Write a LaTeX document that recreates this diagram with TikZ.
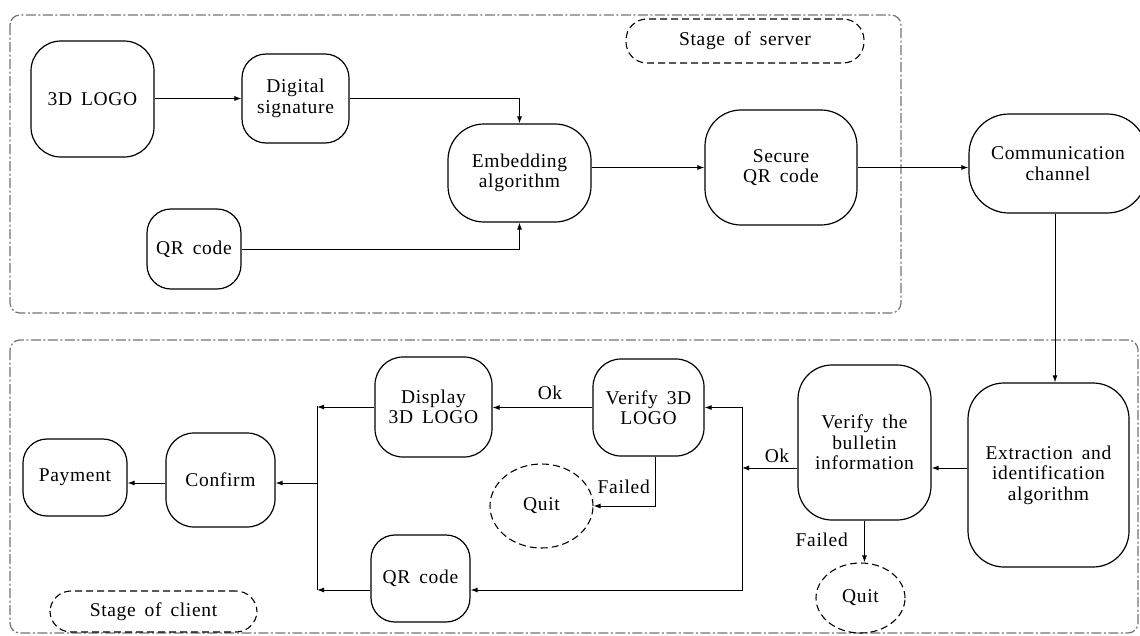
\documentclass[tikz,border=0pt]{standalone}
\usepackage{fontspec}
\setmainfont{Liberation Serif}[LetterSpace=3.5,WordSpace=1.6]
\usetikzlibrary{shapes.geometric,arrows.meta}
\tikzset{
  box/.style={draw, line width=1.2pt, rounded corners=#1, align=center, inner sep=0pt, font=\fontsize{19.5}{20.5}\selectfont},
  box/.default=24pt,
  quitnode/.style={draw, dash pattern=on 7pt off 4pt, line width=1.1pt, ellipse, inner sep=0pt, font=\fontsize{19.5}{20.5}\selectfont},
  stagenode/.style={draw, dash pattern=on 7pt off 4pt, line width=1.1pt, rounded corners=21pt, inner sep=0pt, font=\fontsize{19.5}{20.5}\selectfont},
  frame/.style={draw=black!55, line width=1.2pt, dash pattern=on 10pt off 2.5pt on 2pt off 2.5pt, rounded corners=10pt},
  arr/.style={line width=1pt, -{Latex[length=7pt,width=5pt]}},
  ln/.style={line width=1pt},
  lbl/.style={font=\fontsize{19.5}{20.5}\selectfont, inner sep=0pt},
}
\begin{document}
\begin{tikzpicture}[x=1pt,y=-1pt]
\useasboundingbox (0,0) rectangle (1140,635);
% frames
\draw[frame] (10,15) rectangle (901,313);
\draw[frame] (10,340) rectangle (1138,633);
% server nodes
\node[box=30pt, minimum width=123pt, minimum height=116pt] (logo) at (92.5,99) {3D LOGO};
\node[box, minimum width=107pt, minimum height=89pt] (dsig) at (295.5,98.5) {Digital\\signature};
\node[box, minimum width=94pt, minimum height=80pt] (qrs) at (194,249) {QR code};
\node[box=36pt, minimum width=143pt, minimum height=98pt] (emb) at (519.5,173) {Embedding\\algorithm};
\node[box=36pt, minimum width=152pt, minimum height=115pt] (sqr) at (781,167.5) {Secure\\QR code};
\node[box=40pt, minimum width=178pt, minimum height=99pt] (comm) at (1058,163.5) {Communication\\channel};
\node[stagenode, minimum width=238pt, minimum height=44pt] (stS) at (745,41) {Stage of server};
% client nodes
\node[box=36pt, minimum width=161pt, minimum height=184pt] (ext) at (1048.5,475) {Extraction and\\identification\\algorithm};
\node[box=34pt, minimum width=133pt, minimum height=155pt] (vbi) at (864.5,442.5) {Verify the\\bulletin\\information};
\node[quitnode, minimum width=89pt, minimum height=70pt] (quit2) at (860.5,598) {Quit};
\node[box=28pt, minimum width=111pt, minimum height=97pt] (v3d) at (648.5,407.5) {Verify 3D\\LOGO};
\node[box=28pt, minimum width=117pt, minimum height=100pt] (disp) at (433.5,407) {Display\\3D LOGO};
\node[quitnode, minimum width=103pt, minimum height=84pt] (quit1) at (541.5,506) {Quit};
\node[box, minimum width=99pt, minimum height=87pt] (qrc) at (420.5,578.5) {QR code};
\node[box=28pt, minimum width=109pt, minimum height=94pt] (conf) at (220.5,480) {Confirm};
\node[box, minimum width=104pt, minimum height=77pt] (pay) at (75,477.5) {Payment};
\node[stagenode, minimum width=207pt, minimum height=41pt] (stC) at (153.5,611.5) {Stage of client};
% helper coordinates
\coordinate (xA) at (1055,0);
\coordinate (yB) at (0,468);
\coordinate (jR) at (742,468);
\coordinate (y590) at (0,590);
\coordinate (x655) at (655,0);
\coordinate (jL) at (317,406);
\coordinate (y483) at (0,483);
% server connectors
\draw[arr] (logo.east |- dsig.west) -- (dsig.west);
\draw[arr] (dsig.east) -| (emb.north);
\draw[arr] (qrs.east) -| (emb.south);
\draw[arr] (emb.east |- sqr.west) -- (sqr.west);
\draw[arr] (sqr.east) -- (sqr.east -| comm.west);
\draw[arr] (comm.south -| xA) -- (ext.north -| xA);
% client connectors
\draw[arr] (ext.west |- yB) -- (vbi.east |- yB);
\draw[arr] (vbi.west |- yB) -- (jR);
\node[lbl, anchor=south] (ok2) at (777,463) {Ok};
\draw[arr] (jR) |- (v3d.east);
\draw[arr] (jR) |- (qrc.east |- y590);
\draw[arr] (vbi.south) -- (vbi.south |- quit2.north);
\node[lbl, anchor=east] (f2) at (848,540) {Failed};
\draw[arr] (v3d.west) -- (disp.east |- v3d.west);
\node[lbl, anchor=south] (ok1) at (550,400) {Ok};
\draw[arr] (v3d.south -| x655) |- (quit1.east);
\node[lbl, anchor=east] (f1) at (650,487) {Failed};
\draw[arr] (disp.west) -- (disp.west -| jL);
\draw[arr] (qrc.west |- y590) -- (jL |- y590);
\draw[ln] (jL) -- (jL |- y590);
\draw[arr] (jL |- y483) -- (conf.east |- y483);
\draw[arr] (conf.west |- y483) -- (pay.east |- y483);
\end{tikzpicture}
\end{document}
